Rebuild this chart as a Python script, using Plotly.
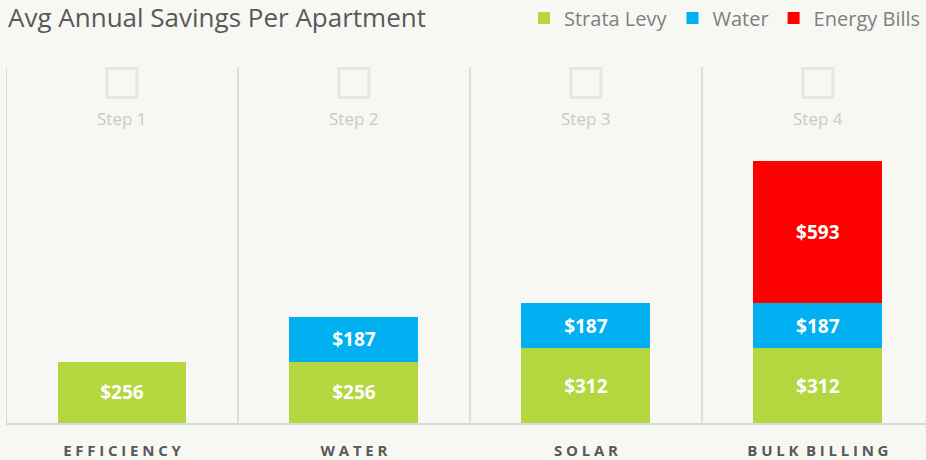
import plotly.graph_objects as go

categories = ["EFFICIENCY", "WATER", "SOLAR", "BULK BILLING"]
steps = ["Step 1", "Step 2", "Step 3", "Step 4"]
strata_levy = [256, 256, 312, 312]
water = [None, 187, 187, 187]
energy_bills = [None, None, None, 593]

series = [
    ("Strata Levy", strata_levy, "#b4d63e"),
    ("Water", water, "#00b0f0"),
    ("Energy Bills", energy_bills, "#ff0000"),
]

def spaced(s):
    words = s.split(" ")
    return "\u2002".join("\u2005".join(list(w)) for w in words)

x_idx = list(range(len(categories)))

fig = go.Figure()
for name, vals, color in series:
    fig.add_trace(go.Bar(
        x=x_idx, y=vals, name=name, marker=dict(color=color, line=dict(width=0)),
        width=0.556,
        texttemplate="$%{y}", textposition="inside", insidetextanchor="middle",
        textangle=0, constraintext="none",
        textfont=dict(family="Open Sans", size=19, color="white", weight="bold"),
        hoverinfo="skip",
    ))

shapes = []
for i in x_idx:
    shapes.append(dict(type="line", xref="x", yref="paper", x0=i - 0.5, x1=i - 0.5,
                       y0=0, y1=1, line=dict(color="#dcdcdc", width=2)))
    shapes.append(dict(type="rect", xref="x", yref="paper", xsizemode="pixel", ysizemode="pixel",
                       xanchor=i, yanchor=1, x0=-15, x1=15, y0=-30.5, y1=-1.5,
                       line=dict(color="#e6e6e6", width=3)))

annotations = []
for i, s in zip(x_idx, steps):
    annotations.append(dict(x=i, y=1, xref="x", yref="paper", text=s, showarrow=False,
                            yanchor="middle", yshift=-51,
                            font=dict(family="Open Sans", size=17, color="#c9c9c9")))

fig.update_layout(
    width=926, height=460,
    margin=dict(l=6, r=0, t=67, b=37),
    paper_bgcolor="#f7f8f4", plot_bgcolor="#f7f8f4",
    barmode="stack",
    showlegend=True,
    title=dict(text="Avg Annual Savings Per Apartment", xref="container", yref="container",
               x=8 / 926, xanchor="left", y=1 - 18 / 460, yanchor="middle",
               font=dict(family="Open Sans", size=26, color="#595959")),
    legend=dict(orientation="h", x=1, xanchor="right", xref="container",
                y=1 - 18 / 460, yref="container", yanchor="middle",
                font=dict(family="Open Sans", size=20, color="#7f7f7f"),
                bgcolor="rgba(0,0,0,0)", traceorder="normal", itemwidth=30),
    xaxis=dict(range=[-0.5, 3.466], tickvals=x_idx, ticktext=[spaced(c) for c in categories],
               tickfont=dict(family="Open Sans", size=15, color="#595959", weight="bold"),
               showgrid=False, zeroline=False, showline=True, linecolor="#d9d9d9", linewidth=2,
               ticks="", ticklabelstandoff=13, fixedrange=True),
    yaxis=dict(range=[0, 1483], showgrid=False, zeroline=False, showticklabels=False,
               showline=False, fixedrange=True),
    shapes=shapes,
    annotations=annotations,
    font=dict(family="Open Sans"),
)

fig.write_html("out.html", config={"displayModeBar": False},
               post_script="document.body.style.margin='0';document.body.style.overflow='hidden';")
